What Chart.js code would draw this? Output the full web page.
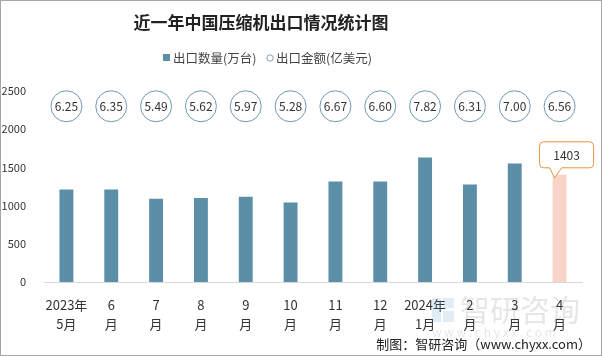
<!DOCTYPE html>
<html><head><meta charset="utf-8">
<script src="https://cdn.jsdelivr.net/npm/chart.js@4/dist/chart.umd.min.js"></script>
<style>html,body{margin:0;padding:0;background:#fff;}#wrap{width:602px;height:356px;position:relative;}</style>
</head><body><div id="wrap"><canvas id="c" width="602" height="356"></canvas></div>
<script>
const titleText = '近一年中国压缩机出口情况统计图';
const categories = [['2023年','5月'],['6','月'],['7','月'],['8','月'],['9','月'],['10','月'],['11','月'],['12','月'],['2024年','1月'],['2','月'],['3','月'],['4','月']];
const quantity = [1210, 1210, 1090, 1100, 1115, 1040, 1315, 1315, 1630, 1275, 1550, 1403];
const amount = [6.25, 6.35, 5.49, 5.62, 5.97, 5.28, 6.67, 6.60, 7.82, 6.31, 7.00, 6.56];
const yTicks = [0, 500, 1000, 1500, 2000, 2500];
const seriesNames = ['出口数量(万台)', '出口金额(亿美元)'];
const sourceText = '制图：智研咨询（www.chyxx.com）';

const FONT = '"Noto Sans CJK SC", "Noto Sans", sans-serif';
const TEAL = '#5b8fa8';
const PINK = '#f8d3c9';
const last = quantity.length - 1;

const deco = {
  id: 'deco',
  beforeDraw(chart) {
    const ctx = chart.ctx;
    ctx.save();
    ctx.fillStyle = '#fff';
    ctx.fillRect(0, 0, chart.width, chart.height);
    ctx.restore();
  },
  afterDraw(chart) {
    const ctx = chart.ctx;
    ctx.save();
    // watermark
    ctx.globalAlpha = 0.16;
    ctx.fillStyle = '#3f86c4';
    ctx.fillRect(432, 298, 9, 24);
    ctx.fillRect(443, 298, 11, 10);
    ctx.fillRect(443, 311, 11, 11);
    ctx.fillStyle = '#666';
    ctx.font = '30px ' + FONT;
    ctx.textBaseline = 'middle';
    ctx.fillText('智研咨询', 460, 310);
    ctx.font = '12px ' + FONT;
    ctx.fillText('w w w . c h y x x . c o m', 432, 332);
    ctx.globalAlpha = 1;
    // title
    ctx.fillStyle = '#222';
    ctx.font = 'bold 17px ' + FONT;
    ctx.textAlign = 'center';
    ctx.textBaseline = 'middle';
    ctx.fillText(titleText, 261, 23);
    // legend
    ctx.font = '12.5px ' + FONT;
    ctx.textAlign = 'left';
    ctx.fillStyle = TEAL;
    ctx.fillRect(163, 54, 7, 7);
    ctx.fillStyle = '#444';
    ctx.fillText(seriesNames[0], 173, 58);
    ctx.strokeStyle = '#7fa6bb';
    ctx.lineWidth = 1;
    ctx.beginPath(); ctx.arc(270, 58, 3.2, 0, Math.PI * 2); ctx.stroke();
    ctx.fillText(seriesNames[1], 276, 58);
    // amount circles
    const xs = chart.scales.x, ys = chart.scales.y;
    const cy = ys.getPixelForValue(2300);
    ctx.font = '12px ' + FONT;
    ctx.textAlign = 'center';
    amount.forEach((v, i) => {
      const cx = xs.getPixelForValue(i);
      ctx.fillStyle = '#fff';
      ctx.strokeStyle = '#6f9ab0';
      ctx.lineWidth = 1;
      ctx.beginPath(); ctx.arc(cx, cy, 15.5, 0, Math.PI * 2); ctx.fill(); ctx.stroke();
      ctx.fillStyle = '#333';
      ctx.fillText(v.toFixed(2), cx, cy + 0.5);
    });
    // callout on last bar
    const bar = chart.getDatasetMeta(0).data[last];
    const bx = bar.x, by = bar.y;
    const L = bx - 20, R = bx + 34, B = by - 7, T = B - 26, r = 4;
    ctx.beginPath();
    ctx.moveTo(L + r, T);
    ctx.lineTo(R - r, T); ctx.quadraticCurveTo(R, T, R, T + r);
    ctx.lineTo(R, B - r); ctx.quadraticCurveTo(R, B, R - r, B);
    ctx.lineTo(bx + 2, B); ctx.lineTo(bx - 5, by + 3); ctx.lineTo(bx - 10, B);
    ctx.lineTo(L + r, B); ctx.quadraticCurveTo(L, B, L, B - r);
    ctx.lineTo(L, T + r); ctx.quadraticCurveTo(L, T, L + r, T);
    ctx.closePath();
    ctx.fillStyle = '#fff'; ctx.fill();
    ctx.strokeStyle = '#e8923f'; ctx.lineWidth = 1; ctx.stroke();
    ctx.fillStyle = '#333';
    ctx.font = '12px ' + FONT;
    ctx.fillText(String(quantity[last]), (L + R) / 2, (T + B) / 2 + 0.5);
    // source
    ctx.font = '13px ' + FONT;
    ctx.textAlign = 'right';
    ctx.fillStyle = '#222';
    ctx.fillText(sourceText, 591, 344);
    // frame
    ctx.strokeStyle = '#a6a6a6';
    ctx.lineWidth = 1;
    ctx.strokeRect(0.5, 0.5, chart.width - 1, chart.height - 1);
    ctx.restore();
  }
};

new Chart(document.getElementById('c'), {
  type: 'bar',
  data: {
    labels: categories,
    datasets: [
      { label: seriesNames[0], data: quantity, yAxisID: 'y',
        backgroundColor: ctx => ctx.dataIndex === last ? PINK : TEAL,
        categoryPercentage: 1, barPercentage: 0.31, order: 2 },
      { type: 'line', label: seriesNames[1], data: amount, yAxisID: 'y2',
        showLine: false, pointRadius: 0, order: 1 }
    ]
  },
  plugins: [deco],
  options: {
    responsive: false,
    animation: false,
    events: [],
    layout: { padding: { top: 91, right: 20, left: 0, bottom: 0 } },
    plugins: { legend: { display: false }, title: { display: false }, tooltip: { enabled: false } },
    scales: {
      x: {
        grid: { display: false },
        border: { display: true, color: '#d9d9d9', width: 1 },
        ticks: { color: '#333', font: { size: 13, family: FONT, lineHeight: 1.45 }, maxRotation: 0, autoSkip: false, padding: 6 },
        afterFit: s => { s.height = 74; }
      },
      y: {
        min: 0, max: 2500,
        afterBuildTicks: s => { s.ticks = yTicks.map(v => ({ value: v })); },
        grid: { display: false },
        border: { display: false },
        ticks: { color: '#333', font: { size: 11, family: FONT }, padding: 10, callback: v => String(v) },
        afterFit: s => { s.width = 44; }
      },
      y2: { display: false, min: 0, max: 10 }
    }
  }
});
</script></body></html>
